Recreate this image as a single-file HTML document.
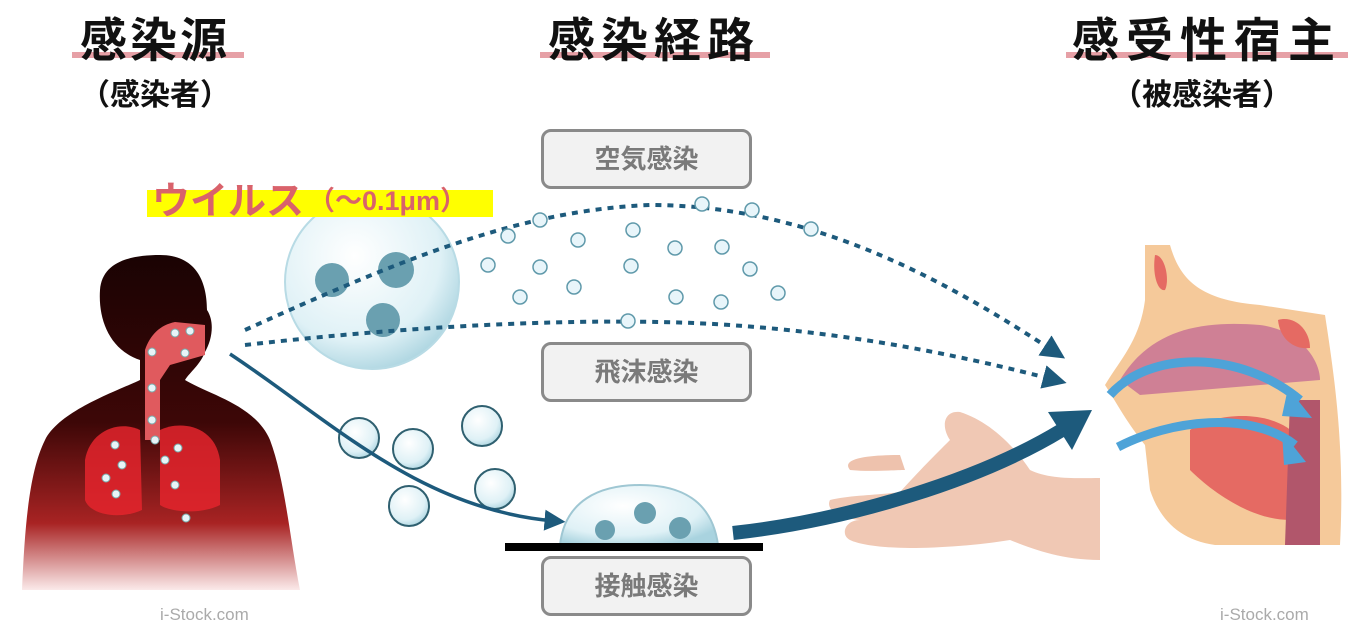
<!DOCTYPE html>
<html><head><meta charset="utf-8"><style>
html,body{margin:0;padding:0;background:#fff;}
body{width:1366px;height:627px;overflow:hidden;position:relative;font-family:"Liberation Sans","Noto Sans CJK JP",sans-serif;}
.t{position:absolute;font-weight:bold;color:#111;white-space:nowrap;}
.ul{position:absolute;height:6px;background:#e6a0a6;}
.box{position:absolute;width:205px;height:54px;border:3px solid #8a8a8a;border-radius:10px;background:#f2f2f2;color:#7a7a7a;font-size:26px;font-weight:bold;text-align:center;line-height:54px;box-sizing:content-box;}
</style></head><body>
<div class="ul" style="left:72px;top:52px;width:172px;"></div>
<div class="t" style="left:80px;top:2px;font-size:47px;letter-spacing:3px;">感染源</div>
<div class="t" style="left:80px;top:70px;font-size:30px;">（感染者）</div>
<div class="ul" style="left:540px;top:52px;width:230px;"></div>
<div class="t" style="left:548px;top:2px;font-size:47px;letter-spacing:6px;">感染経路</div>
<div class="ul" style="left:1066px;top:52px;width:282px;"></div>
<div class="t" style="left:1072px;top:2px;font-size:47px;letter-spacing:7px;">感受性宿主</div>
<div class="t" style="left:1112px;top:70px;font-size:30px;">（被感染者）</div>

<svg width="1366" height="627" style="position:absolute;left:0;top:0">
<defs>
<radialGradient id="bub" cx="40%" cy="35%" r="70%"><stop offset="0" stop-color="#ffffff"/><stop offset="0.7" stop-color="#dff1f6"/><stop offset="1" stop-color="#a9d3df"/></radialGradient>
<linearGradient id="body" x1="0" y1="0" x2="0" y2="1"><stop offset="0" stop-color="#1a0303"/><stop offset="0.5" stop-color="#3d0707"/><stop offset="0.8" stop-color="#a82323"/><stop offset="1" stop-color="#fbeaea"/></linearGradient>
<marker id="ah" markerWidth="6" markerHeight="6" refX="3" refY="3" orient="auto" markerUnits="strokeWidth"><path d="M0,0 L6,3 L0,6 z" fill="#1d5a7c"/></marker>
</defs>

<path d="M110,590 L22,590 C25,520 30,470 45,440 C60,410 120,390 140,380 L140,360 C110,350 98,320 100,290 C102,262 130,255 160,255 C195,255 207,280 207,310 C215,322 212,340 205,352 C200,365 190,372 185,380 C210,395 255,405 270,440 C285,480 290,540 300,590 Z" fill="url(#body)"/>
<path d="M85,460 C90,430 120,420 140,430 L142,510 C120,520 90,515 85,500 Z" fill="#e4252d" opacity="0.85"/>
<path d="M160,430 C180,420 215,425 220,460 L220,505 C200,515 170,512 160,505 Z" fill="#e4252d" opacity="0.85"/>
<path d="M145,380 L145,440 L160,440 L160,380 L170,365 L205,355 L205,325 L175,322 C160,325 150,335 145,350 Z" fill="#e05a5e"/>
<g fill="#e8f4f8" stroke="#7aa" stroke-width="1"><circle cx="175" cy="333" r="4"/><circle cx="190" cy="331" r="4"/><circle cx="152" cy="352" r="4"/><circle cx="185" cy="353" r="4"/><circle cx="152" cy="388" r="4"/><circle cx="152" cy="420" r="4"/><circle cx="155" cy="440" r="4"/><circle cx="115" cy="445" r="4"/><circle cx="122" cy="465" r="4"/><circle cx="106" cy="478" r="4"/><circle cx="116" cy="494" r="4"/><circle cx="165" cy="460" r="4"/><circle cx="178" cy="448" r="4"/><circle cx="175" cy="485" r="4"/><circle cx="186" cy="518" r="4"/></g>
<text x="160" y="620" font-size="17" fill="#aaa" font-family="Liberation Sans, sans-serif">i-Stock.com</text>
<text x="1220" y="620" font-size="17" fill="#aaa" font-family="Liberation Sans, sans-serif">i-Stock.com</text>

<circle cx="372" cy="282" r="87" fill="url(#bub)" stroke="#b8dbe5" stroke-width="2"/>
<g fill="#6aa0b0"><circle cx="332" cy="280" r="17"/><circle cx="396" cy="270" r="18"/><circle cx="383" cy="320" r="17"/></g>

<rect x="147" y="190" width="346" height="27" fill="#ffff00"/>
<text x="152" y="214" font-size="38" font-weight="bold" fill="#d9626b" font-family="Liberation Sans, Noto Sans CJK JP, sans-serif">ウイルス</text>
<text x="308" y="210" font-size="27" font-weight="bold" fill="#d9626b" font-family="Liberation Sans, Noto Sans CJK JP, sans-serif">（〜0.1μm）</text>

<path d="M245,330 C400,260 520,210 650,205 C820,205 960,290 1055,352" fill="none" stroke="#1d5a7c" stroke-width="4" stroke-dasharray="6,6" marker-end="url(#ah)"/>
<path d="M245,345 C420,325 560,320 660,322 C820,325 960,355 1055,380" fill="none" stroke="#1d5a7c" stroke-width="4" stroke-dasharray="6,6" marker-end="url(#ah)"/>
<g fill="#e8f5fa" stroke="#5f99aa" stroke-width="1.5"><circle cx="540" cy="220" r="7"/><circle cx="508" cy="236" r="7"/><circle cx="488" cy="265" r="7"/><circle cx="540" cy="267" r="7"/><circle cx="520" cy="297" r="7"/><circle cx="578" cy="240" r="7"/><circle cx="574" cy="287" r="7"/><circle cx="633" cy="230" r="7"/><circle cx="631" cy="266" r="7"/><circle cx="675" cy="248" r="7"/><circle cx="676" cy="297" r="7"/><circle cx="628" cy="321" r="7"/><circle cx="702" cy="204" r="7"/><circle cx="752" cy="210" r="7"/><circle cx="722" cy="247" r="7"/><circle cx="750" cy="269" r="7"/><circle cx="721" cy="302" r="7"/><circle cx="778" cy="293" r="7"/><circle cx="811" cy="229" r="7"/></g>

<g fill="url(#bub)" stroke="#2f6070" stroke-width="2"><circle cx="359" cy="438" r="20"/><circle cx="413" cy="449" r="20"/><circle cx="482" cy="426" r="20"/><circle cx="409" cy="506" r="20"/><circle cx="495" cy="489" r="20"/></g>
<path d="M230,354 C330,420 420,510 555,521" fill="none" stroke="#1d5a7c" stroke-width="3.5" marker-end="url(#ah)"/>

<path d="M560,545 C565,500 600,485 640,485 C680,485 712,500 718,545 Z" fill="url(#bub)" stroke="#9fc7d3" stroke-width="2"/>
<g fill="#6aa0b0"><circle cx="605" cy="530" r="10"/><circle cx="645" cy="513" r="11"/><circle cx="680" cy="528" r="11"/></g>
<rect x="505" y="543" width="258" height="8" fill="#000"/>

<path d="M830,500 C850,495 880,495 900,492 C920,470 935,455 950,440 C940,425 945,410 960,412 C985,420 1010,440 1030,470 C1050,480 1080,478 1100,478 L1100,560 C1060,560 1030,548 1010,540 C980,545 940,548 910,548 C885,548 860,545 850,540 C840,535 845,520 860,520 C840,518 825,510 830,500 Z" fill="#f0c8b4"/>
<path d="M900,455 C870,455 840,458 850,470 C870,472 895,470 905,470 Z" fill="#eec2ad"/>

<path d="M733,533 C850,520 980,480 1062,430" fill="none" stroke="#1d5a7c" stroke-width="14"/>
<path d="M1092,410 L1048,412 L1072,450 Z" fill="#1d5a7c"/>

<path d="M1145,245 L1170,245 C1180,280 1200,300 1260,305 L1325,315 C1335,380 1345,450 1340,545 L1215,545 C1180,540 1160,520 1150,490 L1145,445 C1125,420 1115,400 1105,385 C1120,360 1140,340 1145,300 Z" fill="#f5c99a"/>
<path d="M1120,380 C1150,330 1200,320 1260,325 C1300,330 1320,360 1320,380 L1140,395 Z" fill="#cf8095"/>
<path d="M1190,430 C1220,410 1280,410 1300,440 L1290,520 C1250,520 1210,490 1190,470 Z" fill="#e56a63"/>
<path d="M1290,400 L1320,400 L1320,545 L1285,545 Z" fill="#b1566b"/>
<path d="M1155,255 C1165,255 1170,280 1165,290 C1158,292 1152,275 1155,255Z" fill="#e56a63"/>
<path d="M1278,320 C1295,315 1310,330 1310,348 C1295,350 1280,340 1278,320Z" fill="#e56a63"/>
<path d="M1110,395 C1150,350 1240,350 1300,400" fill="none" stroke="#4ea3d8" stroke-width="9"/>
<path d="M1288,388 L1312,418 L1282,416 Z" fill="#4ea3d8"/>
<path d="M1118,447 C1170,420 1250,410 1295,445" fill="none" stroke="#4ea3d8" stroke-width="9"/>
<path d="M1282,432 L1306,462 L1284,465 Z" fill="#4ea3d8"/>
</svg>

<div class="box" style="left:541px;top:129px;">空気感染</div>
<div class="box" style="left:541px;top:342px;">飛沫感染</div>
<div class="box" style="left:541px;top:556px;">接触感染</div>
</body></html>
